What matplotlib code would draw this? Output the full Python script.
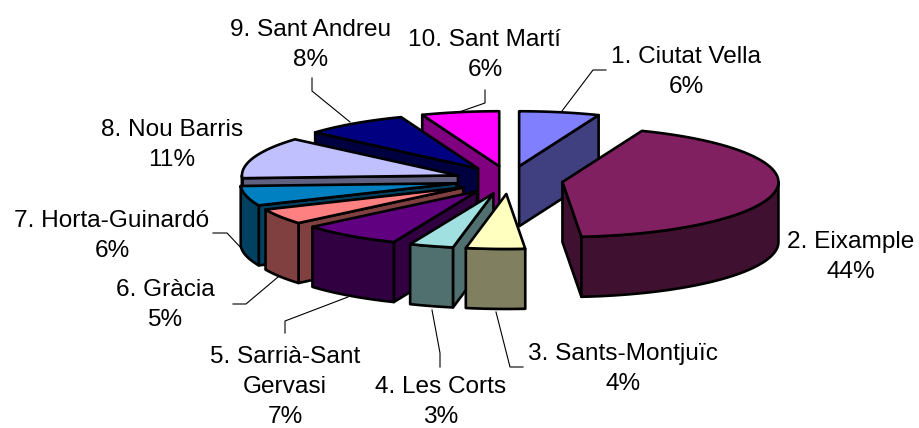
"""
3D exploded pie, barcelona districts
"""
import numpy
import matplotlib
matplotlib.use("Agg")
import matplotlib.pyplot as plt
from matplotlib.patches import Polygon

plt.rcParams["font.family"] = ["Liberation Sans", "DejaVu Sans"]

# shares, labels as printed on the chart
districts = ["1. Ciutat Vella", "2. Eixample", "3. Sants-Montjuïc", "4. Les Corts", "5. Sarrià-Sant\nGervasi",
	"6. Gràcia", "7. Horta-Guinardó", "8. Nou Barris", "9. Sant Andreu", "10. Sant Martí"]
percent_labels = ["6%", "44%", "4%", "3%", "7%", "5%", "6%", "11%", "8%", "6%"]
shares = [6.0, 42.6, 4.4, 3.3, 7.5, 4.6, 5.8, 12.2, 7.8, 5.8]

top_colors = ["#8080FF", "#802060", "#FFFFC0", "#A0E0E0", "#600080", "#FF8080", "#0080C0", "#C0C0FF", "#000080", "#FF00FF"]
side_colors = ["#404080", "#401030", "#808060", "#507070", "#300040", "#804040", "#004060", "#606080", "#000040", "#800080"]

# layout, in pixels
cx, cy = 509, 180
rx, ry = 216, 55
ex, ey = 54, 14
depth = 60
label_xy = [(686, 72), (851, 257), (623, 369), (441, 402), (285, 387), (165, 305), (112, 236), (172, 145), (311, 45), (485, 55)]
leaders = [
	[(562, 111), (593, 70), (606, 70)],
	[(496, 312), (510, 367), (523, 367)],
	[(432, 310), (440, 353), (440, 367)],
	[(348, 297), (285, 321), (285, 333)],
	[(278, 277), (246, 304), (233, 304)],
	[(243, 250), (227, 233), (213, 233)],
	[(350, 122), (312, 91), (312, 78)],
	[(462, 111), (485, 103), (485, 90)],
]

fig = plt.figure(figsize=(9.19, 4.28), dpi=100)
ax = fig.add_axes([0, 0, 1, 1])
ax.set_xlim(0, 919)
ax.set_ylim(428, 0)
ax.axis("off")

edges = numpy.cumsum([0] + shares) / sum(shares) * 360.0
mids = (edges[:-1] + edges[1:]) / 2

def apex_of(i):
	m = numpy.radians(mids[i])
	return cx + ex * numpy.sin(m), cy - ey * numpy.cos(m)

def arc(ax0, ay0, a, b):
	t = numpy.radians(numpy.linspace(a, b, 60))
	return numpy.column_stack([ax0 + rx * numpy.sin(t), ay0 - ry * numpy.cos(t)])

def face(points, color, z):
	ax.add_patch(Polygon(points, closed=True, facecolor=color, edgecolor="k", linewidth=1.9, joinstyle="round", zorder=z))

# far slices first, each one hides part of the ones behind
order = sorted(range(len(shares)), key=lambda i: apex_of(i)[1])
z = 2
for i in order:
	x0, y0 = apex_of(i)
	a, b = edges[i], edges[i + 1]
	down = numpy.array([0, depth])
	apex = numpy.array([x0, y0])
	# cut faces, only the ones turned to the viewer
	for angle, visible in ((a, 180 < a < 360), (b, 0 < b < 180)):
		if visible:
			p = arc(x0, y0, angle, angle)[0]
			face([apex, p, p + down, apex + down], side_colors[i], z)
			z += 1
	# outer wall, front half of the rim only
	lo, hi = max(a, 90), min(b, 270)
	if lo < hi:
		rim = arc(x0, y0, lo, hi)
		face(numpy.vstack([rim, rim[::-1] + down]), side_colors[i], z)
		z += 1
	face(numpy.vstack([apex, arc(x0, y0, a, b)]), top_colors[i], z)
	z += 1

for path in leaders:
	xs, ys = zip(*path)
	ax.plot(xs, ys, color="k", lw=0.8, zorder=1)

for name, pct, (x, y) in zip(districts, percent_labels, label_xy):
	ax.text(x, y, name + "\n" + pct, ha="center", va="center", fontsize=17.6, linespacing=1.47, color="k", zorder=200)

fig.savefig("out.png", dpi=100)
